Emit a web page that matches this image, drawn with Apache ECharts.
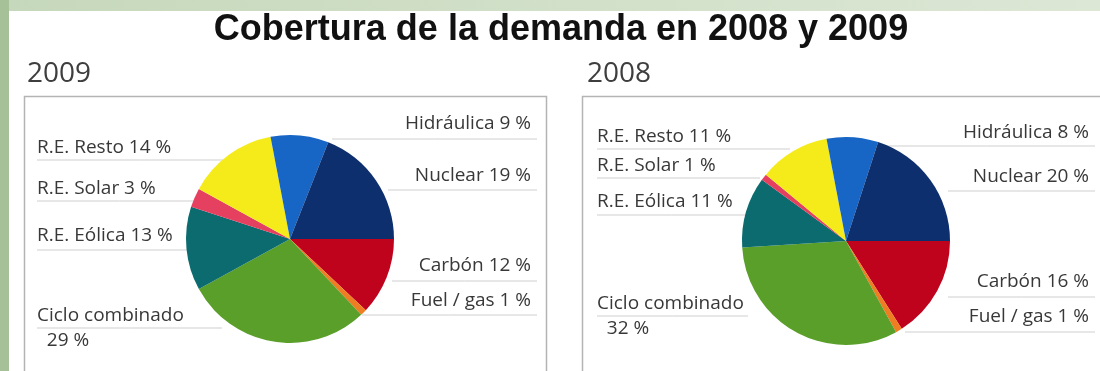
<!DOCTYPE html>
<html>
<head>
<meta charset="utf-8">
<script src="https://cdn.jsdelivr.net/npm/echarts@6/dist/echarts.min.js"></script>
<style>
html,body{margin:0;padding:0;background:#fff;}
#c{width:1100px;height:371px;}
</style>
</head>
<body>
<div id="c"></div>
<script>
// ---- data ----
const categories = ['Carbón', 'Fuel / gas', 'Ciclo combinado', 'R.E. Eólica', 'R.E. Solar', 'R.E. Resto', 'Hidráulica', 'Nuclear'];
const values2009 = [12, 1, 29, 13, 3, 14, 9, 19];
const values2008 = [16, 1, 32, 11, 1, 11, 8, 20];
const colors = ['#c0031d', '#ef7d22', '#5b9f2b', '#0b6b6e', '#e5405f', '#f5eb1a', '#1766c6', '#0e2f6d'];
const titleText = 'Cobertura de la demanda en 2008 y 2009';
const panelTitles = ['2009', '2008'];

// ---- label layout (positions only) ----
// [textX, textY, align, lineY, lineX1, lineX2]
const layout2009 = [
  [531, 266, 'right', 281, 392, 537],
  [531, 301, 'right', 315, 362, 537],
  [37, 328, 'left', 328, 37, 222],
  [37, 236, 'left', 250, 37, 190],
  [37, 189, 'left', 201, 37, 202],
  [37, 148, 'left', 160, 37, 242],
  [531, 124, 'right', 139, 332, 537],
  [531, 176, 'right', 190, 388, 537]
];
const layout2008 = [
  [1089, 282, 'right', 297, 948, 1095],
  [1089, 317, 'right', 332, 905, 1095],
  [597, 316, 'left', 316, 597, 748],
  [597, 202, 'left', 215, 597, 746],
  [597, 166, 'left', 178, 597, 760],
  [597, 137, 'left', 149, 597, 790],
  [1089, 133, 'right', 146, 878, 1095],
  [1089, 177, 'right', 191, 948, 1095]
];

function makeData(vals) {
  return categories.map((n, i) => ({ name: n, value: vals[i], itemStyle: { color: colors[i] } }));
}
function labelFmt(p) {
  if (p.name === 'Ciclo combinado') return p.name + '\n  ' + p.value + ' %';
  return p.name + ' ' + p.value + ' %';
}
function makeLayout(tbl) {
  return function (p) {
    const t = tbl[p.dataIndex];
    return {
      x: t[0], y: t[1], align: t[2], verticalAlign: 'middle',
      labelLinePoints: [[t[4], t[3]], [(t[4] + t[5]) / 2, t[3]], [t[5], t[3]]]
    };
  };
}
function makeSeries(vals, center, tbl) {
  return {
    type: 'pie',
    center: center,
    radius: 104,
    startAngle: 0,
    clockwise: true,
    silent: true,
    animation: false,
    data: makeData(vals),
    itemStyle: { borderWidth: 0 },
    label: {
      show: true,
      position: 'outside',
      formatter: labelFmt,
      fontFamily: 'Open Sans',
      fontSize: 19,
      color: '#383838',
      lineHeight: 25,
      overflow: 'none',
      width: 300
    },
    labelLine: { show: true, lineStyle: { color: '#cfcfcf', width: 1 } },
    labelLayout: makeLayout(tbl),
    emphasis: { disabled: true }
  };
}

const chart = echarts.init(document.getElementById('c'), null, { renderer: 'canvas' });
chart.setOption({
  backgroundColor: '#ffffff',
  animation: false,
  title: [
    { text: titleText, left: 556, top: 7, textAlign: 'center',
      textStyle: { fontFamily: 'Liberation Sans', fontWeight: 'bold', fontSize: 36, color: '#111' } },
    { text: panelTitles[0], left: 22, top: 55,
      textStyle: { fontFamily: 'Open Sans', fontWeight: 'normal', fontSize: 28, color: '#3e3e3e' } },
    { text: panelTitles[1], left: 582, top: 55,
      textStyle: { fontFamily: 'Open Sans', fontWeight: 'normal', fontSize: 28, color: '#3e3e3e' } }
  ],
  graphic: [
    { type: 'rect', z: -10, shape: { x: 0, y: 0, width: 1100, height: 11 },
      style: { fill: new echarts.graphic.LinearGradient(0, 0, 1, 0, [
        { offset: 0, color: '#c6d8bb' }, { offset: 1, color: '#dce7d5' }]) } },
    { type: 'rect', z: -9, shape: { x: 0, y: 0, width: 9, height: 371 },
      style: { fill: '#a6c198' } },
    { type: 'rect', z: -8, shape: { x: 24.5, y: 96.5, width: 522, height: 300 },
      style: { fill: 'none', stroke: '#b4b4b4', lineWidth: 1.5 } },
    { type: 'rect', z: -8, shape: { x: 582.5, y: 96.5, width: 540, height: 300 },
      style: { fill: 'none', stroke: '#b4b4b4', lineWidth: 1.5 } }
  ],
  series: [
    makeSeries(values2009, [290, 239], layout2009),
    makeSeries(values2008, [846, 241], layout2008)
  ]
});
</script>
</body>
</html>
